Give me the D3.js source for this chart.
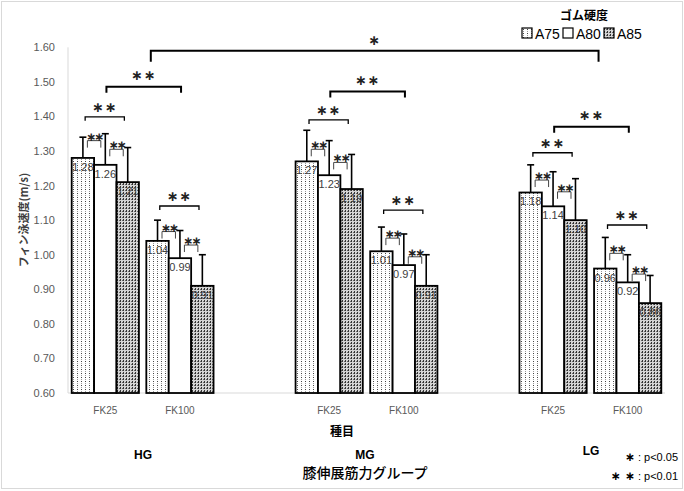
<!DOCTYPE html>
<html>
<head>
<meta charset="utf-8">
<script src="https://cdn.jsdelivr.net/npm/d3@7"></script>
<style>
  body { margin: 0; background: #fff; }
  svg { display: block; }
  .num { font-family: "Liberation Sans Narrow", "Liberation Sans", Arial, sans-serif; }
  .jp { font-family: "Noto Sans CJK JP", sans-serif; }
  .ast { font-family: "DejaVu Sans", sans-serif; font-weight: bold; }
</style>
</head>
<body>
<svg width="684" height="491"></svg>
<script>
// data
var groups = ["HG", "MG", "LG"];
var events = ["FK25", "FK100"];
var series = ["A75", "A80", "A85"];
// order: HG-FK25, HG-FK100, MG-FK25, MG-FK100, LG-FK25, LG-FK100
var a75 = [1.28, 1.04, 1.27, 1.01, 1.18, 0.96];
var a80 = [1.26, 0.99, 1.23, 0.97, 1.14, 0.92];
var a85 = [1.21, 0.91, 1.19, 0.91, 1.10, 0.86];
var sd75 = [0.06, 0.06, 0.09, 0.07, 0.08, 0.09];
var sd80 = [0.09, 0.08, 0.10, 0.09, 0.10, 0.08];
var sd85 = [0.10, 0.09, 0.10, 0.09, 0.12, 0.08];
var yTicks = [0.6, 0.7, 0.8, 0.9, 1.0, 1.1, 1.2, 1.3, 1.4, 1.5, 1.6];

// significance brackets: [cell, series] -> [cell, series], height, label
var brackets = [
  {a: [0, 0], b: [0, 1], y: 1.330, kind: "pair", label: "∗∗"},
  {a: [0, 1], b: [0, 2], y: 1.305, kind: "pair", label: "∗∗"},
  {a: [0, 0], b: [0, 2], y: 1.399, kind: "wide", label: "∗∗"},
  {a: [1, 0], b: [1, 1], y: 1.067, kind: "pair", label: "∗∗"},
  {a: [1, 1], b: [1, 2], y: 1.028, kind: "pair", label: "∗∗"},
  {a: [1, 0], b: [1, 2], y: 1.141, kind: "wide", label: "∗∗"},
  {a: [0, 1], b: [1, 1], y: 1.486, kind: "cross", label: "∗∗"},
  {a: [2, 0], b: [2, 1], y: 1.305, kind: "pair", label: "∗∗"},
  {a: [2, 1], b: [2, 2], y: 1.267, kind: "pair", label: "∗∗"},
  {a: [2, 0], b: [2, 2], y: 1.390, kind: "wide", label: "∗∗"},
  {a: [3, 0], b: [3, 1], y: 1.048, kind: "pair", label: "∗∗"},
  {a: [3, 1], b: [3, 2], y: 0.994, kind: "pair", label: "∗∗"},
  {a: [3, 0], b: [3, 2], y: 1.129, kind: "wide", label: "∗∗"},
  {a: [2, 1], b: [3, 1], y: 1.472, kind: "cross", label: "∗∗"},
  {a: [4, 0], b: [4, 1], y: 1.216, kind: "pair", label: "∗∗"},
  {a: [4, 1], b: [4, 2], y: 1.182, kind: "pair", label: "∗∗"},
  {a: [4, 0], b: [4, 2], y: 1.295, kind: "wide", label: "∗∗"},
  {a: [5, 0], b: [5, 1], y: 1.004, kind: "pair", label: "∗∗"},
  {a: [5, 1], b: [5, 2], y: 0.944, kind: "pair", label: "∗∗"},
  {a: [5, 0], b: [5, 2], y: 1.086, kind: "wide", label: "∗∗"},
  {a: [4, 1], b: [5, 1], y: 1.370, kind: "cross", label: "∗∗"},
  {a: [1, 0], b: [5, 0], y: 1.590, kind: "big", label: "∗"}
];

var values = [a75, a80, a85];
var sds = [sd75, sd80, sd85];

var svg = d3.select("svg");

// chart area border
svg.append("rect")
  .attr("x", 1.5).attr("y", 1.5).attr("width", 681).attr("height", 487)
  .attr("fill", "#fff").attr("stroke", "#d9d9d9");

// patterns
var defs = svg.append("defs");
var p1 = defs.append("pattern").attr("id", "dots").attr("patternUnits", "userSpaceOnUse")
  .attr("width", 4).attr("height", 4);
p1.append("rect").attr("width", 4).attr("height", 4).attr("fill", "#fff");
p1.append("rect").attr("x", 1).attr("y", 1).attr("width", 1).attr("height", 1).attr("fill", "#444");
p1.append("rect").attr("x", 1).attr("y", 3).attr("width", 1).attr("height", 1).attr("fill", "#999");
var p3 = defs.append("pattern").attr("id", "dense").attr("patternUnits", "userSpaceOnUse")
  .attr("width", 3).attr("height", 3);
p3.append("rect").attr("width", 3).attr("height", 3).attr("fill", "#d4d4d4");
p3.append("rect").attr("x", 0).attr("y", 0).attr("width", 1).attr("height", 2).attr("fill", "#333");
p3.append("rect").attr("x", 2).attr("y", 1).attr("width", 1).attr("height", 1).attr("fill", "#666");
var fills = ["url(#dots)", "#fff", "url(#dense)"];

// scales
var slots = [];
groups.forEach(function(g, i) {
  events.forEach(function(e) { slots.push(g + "-" + e); });
  if (i < groups.length - 1) slots.push("gap" + i);
});
var cells = slots.filter(function(s) { return s.indexOf("gap") !== 0; });

var x = d3.scaleBand().domain(slots).range([68, 665]);
var xs = d3.scaleBand().domain(series).range([0, x.bandwidth()]).paddingOuter(0.165);
var y = d3.scaleLinear().domain([0.6, 1.6]).range([393, 47.3]);
var bw = xs.bandwidth();

// axes lines
svg.append("line").attr("x1", 68).attr("x2", 68).attr("y1", y(1.6)).attr("y2", y(0.6))
  .attr("stroke", "#d9d9d9");
svg.append("line").attr("x1", 68).attr("x2", 665).attr("y1", y(0.6)).attr("y2", y(0.6))
  .attr("stroke", "#d9d9d9");

// y tick labels
svg.selectAll(".ytick").data(yTicks).enter().append("text")
  .attr("class", "num")
  .attr("x", 55).attr("y", function(d) { return y(d) + 4; })
  .attr("text-anchor", "end").attr("font-size", 11).attr("fill", "#595959")
  .text(function(d) { return d3.format(".2f")(d); });

// bars
var barData = [];
cells.forEach(function(c, i) {
  series.forEach(function(s, j) {
    barData.push({cell: c, i: i, s: s, j: j, v: values[j][i], sd: sds[j][i]});
  });
});

svg.selectAll(".bar").data(barData).enter().append("rect")
  .attr("x", function(d) { return x(d.cell) + xs(d.s); })
  .attr("y", function(d) { return y(d.v); })
  .attr("width", bw)
  .attr("height", function(d) { return y(0.6) - y(d.v); })
  .attr("fill", function(d) { return fills[d.j]; })
  .attr("stroke", "#000").attr("stroke-width", 1.8);

// error bars (upper)
var eb = svg.selectAll(".err").data(barData).enter().append("g");
eb.append("line")
  .attr("x1", function(d) { return x(d.cell) + xs(d.s) + bw / 2; })
  .attr("x2", function(d) { return x(d.cell) + xs(d.s) + bw / 2; })
  .attr("y1", function(d) { return y(d.v); })
  .attr("y2", function(d) { return y(d.v + d.sd); })
  .attr("stroke", "#000").attr("stroke-width", 1.6);
eb.append("line")
  .attr("x1", function(d) { return x(d.cell) + xs(d.s) + bw / 2 - 3.5; })
  .attr("x2", function(d) { return x(d.cell) + xs(d.s) + bw / 2 + 3.5; })
  .attr("y1", function(d) { return y(d.v + d.sd); })
  .attr("y2", function(d) { return y(d.v + d.sd); })
  .attr("stroke", "#000").attr("stroke-width", 1.6);

// value labels
svg.selectAll(".vlab").data(barData).enter().append("text")
  .attr("class", "num")
  .attr("x", function(d) { return x(d.cell) + xs(d.s) + bw / 2; })
  .attr("y", function(d) { return y(d.v) + 13; })
  .attr("text-anchor", "middle").attr("font-size", 11).attr("fill", "#404040")
  .text(function(d) { return d3.format(".2f")(d.v); });

// brackets
var frac = {pair: [0.7, 0.3], wide: [0.6, 0.35], cross: [0.55, 0.55], big: [0.2, 0.2]};
var leg = {pair: 7, wide: 4, cross: 6, big: 11};
var lift = {pair: 4, wide: 9, cross: 11, big: 10};
var sw = {pair: 1, wide: 1.3, cross: 2, big: 2};
function bx(ref, f) { return x(cells[ref[0]]) + xs(series[ref[1]]) + f * bw; }

var br = svg.selectAll(".br").data(brackets).enter().append("g");
br.append("path")
  .attr("d", function(d) {
    var x1 = bx(d.a, frac[d.kind][0]), x2 = bx(d.b, frac[d.kind][1]), yy = y(d.y);
    return "M" + x1 + "," + (yy + leg[d.kind]) + "V" + yy + "H" + x2 + "V" + (yy + leg[d.kind]);
  })
  .attr("fill", "none").attr("stroke", function(d) { return d.kind === "pair" ? "#444" : "#000"; })
  .attr("stroke-width", function(d) { return sw[d.kind]; });
br.append("text")
  .attr("class", "ast")
  .attr("x", function(d) { return (bx(d.a, frac[d.kind][0]) + bx(d.b, frac[d.kind][1])) / 2; })
  .attr("y", function(d) { return y(d.y) - lift[d.kind] + 4; })
  .attr("text-anchor", "middle")
  .attr("font-size", function(d) { return d.kind === "pair" ? 12 : 14; })
  .attr("letter-spacing", function(d) { return d.kind === "pair" ? -2 : 1; })
  .attr("fill", "#222")
  .text(function(d) { return d.label; });

// x tick labels
svg.selectAll(".xtick").data(cells).enter().append("text")
  .attr("class", "num")
  .attr("x", function(d) { return x(d) + x.bandwidth() / 2; })
  .attr("y", 414)
  .attr("text-anchor", "middle").attr("font-size", 10).attr("fill", "#595959")
  .text(function(d) { return d.split("-")[1]; });

// axis titles
svg.append("text").attr("class", "jp")
  .attr("x", 342).attr("y", 436).attr("text-anchor", "middle")
  .attr("font-size", 12).attr("font-weight", "bold").text("種目");
svg.append("text").attr("class", "jp")
  .attr("transform", "translate(28,220) rotate(-90)").attr("text-anchor", "middle")
  .attr("font-size", 11).attr("font-weight", "bold").attr("fill", "#404040").text("フィン泳速度(m/s)");

var gx = [143, 365, 591], gy = [459, 459, 455];
svg.selectAll(".glab").data(groups).enter().append("text")
  .attr("class", "num")
  .attr("x", function(d, i) { return gx[i]; }).attr("y", function(d, i) { return gy[i]; })
  .attr("text-anchor", "middle").attr("font-size", 12).attr("font-weight", "bold")
  .text(function(d) { return d; });
svg.append("text").attr("class", "jp")
  .attr("x", 365).attr("y", 478).attr("text-anchor", "middle")
  .attr("font-size", 14).attr("font-weight", 500).text("膝伸展筋力グループ");

// p-value key
var k1 = svg.append("text").attr("class", "num").attr("x", 678).attr("y", 461)
  .attr("text-anchor", "end").attr("font-size", 11);
k1.append("tspan").attr("class", "ast").attr("font-size", 12).text("∗");
k1.append("tspan").text(" : p<0.05");
var k2 = svg.append("text").attr("class", "num").attr("x", 678).attr("y", 480)
  .attr("text-anchor", "end").attr("font-size", 11);
k2.append("tspan").attr("class", "ast").attr("font-size", 12).text("∗ ∗");
k2.append("tspan").text(" : p<0.01");

// legend
svg.append("text").attr("class", "jp").attr("x", 584).attr("y", 20)
  .attr("text-anchor", "middle").attr("font-size", 12).attr("font-weight", "bold").text("ゴム硬度");
var lg = svg.selectAll(".leg").data(series).enter().append("g")
  .attr("transform", function(d, i) { return "translate(" + (522 + i * 41) + ",28)"; });
lg.append("rect").attr("width", 10).attr("height", 10)
  .attr("fill", function(d, i) { return fills[i]; }).attr("stroke", "#000").attr("stroke-width", 1.2);
lg.append("text").attr("class", "num").attr("x", 13).attr("y", 10.5).attr("font-size", 14)
  .text(function(d) { return d; });
</script>
</body>
</html>
